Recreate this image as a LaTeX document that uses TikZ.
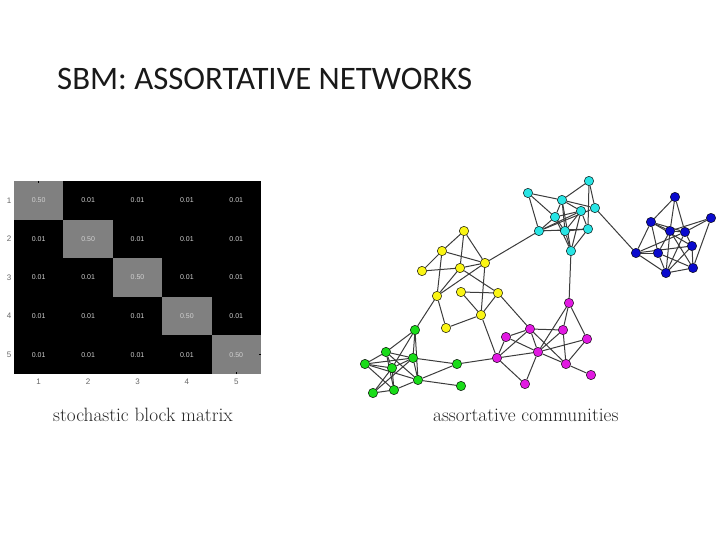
\documentclass[tikz,border=0pt]{standalone}
\usepackage{fontspec}
\newfontfamily\titlefont{Carlito}
\newfontfamily\plotfont{Liberation Sans}
\usetikzlibrary{backgrounds}

\definecolor{cyancol}{RGB}{40,228,228}
\definecolor{bluecol}{RGB}{10,10,205}
\definecolor{yellowcol}{RGB}{250,245,20}
\definecolor{greencol}{RGB}{25,220,25}
\definecolor{magentacol}{RGB}{225,25,225}
\definecolor{edgecol}{RGB}{60,60,60}

\tikzset{
  vertex/.style={circle, draw=black, line width=0.45pt, inner sep=0pt, minimum size=9.4pt},
  link/.style={edgecol, line width=1pt},
  cellnum/.style={font=\plotfont\fontsize{7}{8}\selectfont, text=black!18},
  ticklab/.style={font=\plotfont\fontsize{8}{9}\selectfont, text=black!60}
}

\begin{document}
\begin{tikzpicture}[x=1pt,y=-1pt]

\useasboundingbox (0,0) rectangle (720,540);

% title
\node[anchor=base west, inner sep=0pt, font=\titlefont\fontsize{32.8}{38}\selectfont, text=black!90] (title) at (57,90) {SBM: ASSORTATIVE NETWORKS};

% block matrix
\fill[black] (14,181) rectangle (261,374);
\foreach \i in {1,...,5}
  \fill[black!50] ({14+49.4*(\i-1)},{181+38.6*(\i-1)}) rectangle ++(49.4,38.6);
\foreach \r in {1,...,5}
  \foreach \c in {1,...,5}
    \node[cellnum] (v\r\c) at ({14+49.4*(\c-0.5)},{181+38.6*(\r-0.5)}) {\ifnum\r=\c\relax 0.50\else 0.01\fi};

\foreach \i in {1,...,5} {
  \node[ticklab] (row\i) at (9,{181+38.6*(\i-0.5)}) {\i};
  \node[ticklab] (col\i) at ({14+49.4*(\i-0.5)},382) {\i};
}
\draw[black, line width=0.5pt] (38.7,181) -- (38.7,183);
\draw[black, line width=0.5pt] (236.3,374) -- (236.3,372);
\draw[black, line width=0.5pt] (261,354.7) -- (259,354.7);

% cyan community
\node[vertex, fill=cyancol] (c1) at (528,193) {};
\node[vertex, fill=cyancol] (c2) at (589,181) {};
\node[vertex, fill=cyancol] (c3) at (562,200) {};
\node[vertex, fill=cyancol] (c4) at (581,211) {};
\node[vertex, fill=cyancol] (c5) at (595,208) {};
\node[vertex, fill=cyancol] (c6) at (555,217) {};
\node[vertex, fill=cyancol] (c7) at (539,231) {};
\node[vertex, fill=cyancol] (c8) at (565,231) {};
\node[vertex, fill=cyancol] (c9) at (588,229) {};
\node[vertex, fill=cyancol] (c10) at (571,251) {};

% blue community
\node[vertex, fill=bluecol] (b1) at (675,197) {};
\node[vertex, fill=bluecol] (b2) at (651,222) {};
\node[vertex, fill=bluecol] (b3) at (711,218) {};
\node[vertex, fill=bluecol] (b4) at (670,231) {};
\node[vertex, fill=bluecol] (b5) at (685,232) {};
\node[vertex, fill=bluecol] (b6) at (636,253) {};
\node[vertex, fill=bluecol] (b7) at (658,253) {};
\node[vertex, fill=bluecol] (b8) at (692,246) {};
\node[vertex, fill=bluecol] (b9) at (693,268) {};
\node[vertex, fill=bluecol] (b10) at (666,273) {};

% yellow community
\node[vertex, fill=yellowcol] (y1) at (464,231) {};
\node[vertex, fill=yellowcol] (y2) at (442,251) {};
\node[vertex, fill=yellowcol] (y3) at (485,263) {};
\node[vertex, fill=yellowcol] (y4) at (422,271) {};
\node[vertex, fill=yellowcol] (y5) at (460,268) {};
\node[vertex, fill=yellowcol] (y6) at (437,296) {};
\node[vertex, fill=yellowcol] (y7) at (461,292) {};
\node[vertex, fill=yellowcol] (y8) at (498,293) {};
\node[vertex, fill=yellowcol] (y9) at (481,315) {};
\node[vertex, fill=yellowcol] (y10) at (446,328) {};

% green community
\node[vertex, fill=greencol] (g1) at (415,330) {};
\node[vertex, fill=greencol] (g2) at (386,352) {};
\node[vertex, fill=greencol] (g3) at (413,358) {};
\node[vertex, fill=greencol] (g4) at (365,364) {};
\node[vertex, fill=greencol] (g5) at (392,368) {};
\node[vertex, fill=greencol] (g6) at (457,364) {};
\node[vertex, fill=greencol] (g7) at (418,380) {};
\node[vertex, fill=greencol] (g8) at (373,393) {};
\node[vertex, fill=greencol] (g9) at (394,390) {};
\node[vertex, fill=greencol] (g10) at (461,386) {};

% magenta community
\node[vertex, fill=magentacol] (m1) at (569,303) {};
\node[vertex, fill=magentacol] (m2) at (530,329) {};
\node[vertex, fill=magentacol] (m3) at (506,337) {};
\node[vertex, fill=magentacol] (m4) at (563,330) {};
\node[vertex, fill=magentacol] (m5) at (587,339) {};
\node[vertex, fill=magentacol] (m6) at (538,352) {};
\node[vertex, fill=magentacol] (m7) at (497,358) {};
\node[vertex, fill=magentacol] (m8) at (566,364) {};
\node[vertex, fill=magentacol] (m9) at (591,375) {};
\node[vertex, fill=magentacol] (m10) at (525,384) {};

% edges
\begin{scope}[on background layer]
\foreach \a/\b in {c1/c3, c1/c6, c1/c7, c2/c3, c2/c5, c2/c9, c3/c4, c3/c5, c3/c6, c3/c8,
    c3/c10, c4/c6, c4/c7, c4/c8, c4/c9, c4/c10, c5/c7, c6/c7, c6/c8, c6/c10, c7/c8, c7/c9,
    c8/c9, c8/c10, c9/c10, c5/b6, c7/y3, c10/m1}
  \draw[link] (\a) -- (\b);
\foreach \a/\b in {b1/b2, b1/b4, b1/b5, b2/b4, b2/b5, b2/b6, b2/b7, b2/b8, b3/b4, b3/b5,
    b3/b9, b4/b5, b4/b7, b4/b9, b4/b10, b5/b6, b5/b8, b5/b10, b6/b7, b6/b8, b6/b10, b7/b9,
    b7/b10, b8/b9, b8/b10, b9/b10}
  \draw[link] (\a) -- (\b);
\foreach \a/\b in {y1/y2, y1/y3, y1/y5, y2/y3, y2/y4, y2/y6, y3/y5, y3/y6, y3/y9, y4/y5,
    y5/y8, y5/y6, y6/y10, y7/y8, y7/y9, y8/y9, y9/y10, y6/g1, y8/m2, y9/m7}
  \draw[link] (\a) -- (\b);
\foreach \a/\b in {g1/g2, g1/g3, g1/g5, g1/g7, g2/g3, g2/g4, g2/g5, g2/g7, g2/g9, g3/g4,
    g3/g5, g3/g6, g3/g7, g3/g8, g4/g5, g4/g7, g4/g9, g5/g8, g5/g9, g7/g6, g7/g9, g7/g10,
    g8/g9, g6/m7}
  \draw[link] (\a) -- (\b);
\foreach \a/\b in {m1/m4, m1/m5, m1/m6, m2/m3, m2/m4, m2/m6, m2/m7, m2/m8, m3/m6, m3/m7,
    m4/m6, m4/m8, m5/m6, m5/m8, m6/m8, m6/m10, m7/m10, m8/m9, m6/m7}
  \draw[link] (\a) -- (\b);
\end{scope}

% captions
\node[anchor=base west, inner sep=0pt, font=\fontsize{19.3}{22}\selectfont, text=black!85] (cap1) at (53,421) {stochastic block matrix};
\node[anchor=base west, inner sep=0pt, font=\fontsize{19.3}{22}\selectfont, text=black!85] (cap2) at (433,421) {assortative communities};

\end{tikzpicture}
\end{document}
